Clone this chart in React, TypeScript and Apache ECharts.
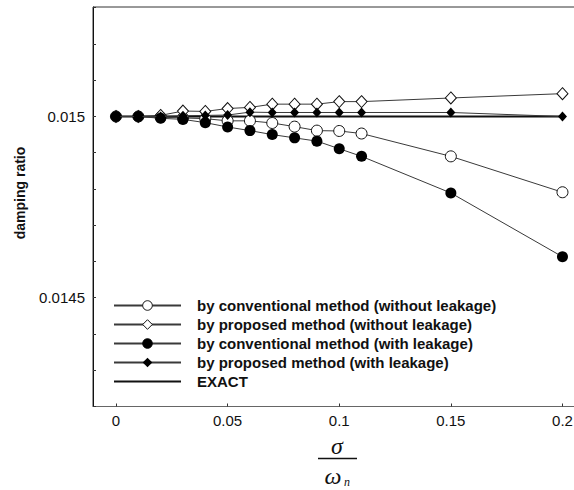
import React, { useEffect, useRef } from "react";
import * as echarts from "echarts";

const xValues = [0, 0.01, 0.02, 0.03, 0.04, 0.05, 0.06, 0.07, 0.08, 0.09, 0.1, 0.11, 0.15, 0.2];
const convNoLeak = [0.015, 0.015, 0.014998, 0.014996, 0.014994, 0.014988, 0.014988, 0.014982, 0.014972, 0.014961, 0.01496, 0.014953, 0.01489, 0.014791];
const propNoLeak = [0.015, 0.015, 0.015003, 0.015015, 0.015014, 0.015022, 0.015025, 0.015034, 0.015034, 0.015034, 0.015041, 0.015041, 0.015051, 0.015063];
const convLeak = [0.015, 0.015, 0.014995, 0.014992, 0.014983, 0.014971, 0.014961, 0.01495, 0.014941, 0.014932, 0.014911, 0.01489, 0.014789, 0.014613];
const propLeak = [0.015, 0.015, 0.015, 0.015002, 0.015003, 0.015004, 0.015012, 0.015011, 0.015011, 0.015011, 0.015011, 0.015011, 0.015011, 0.015];
const exactX = [0, 0.2];
const exactValues = [0.015, 0.015];

const seriesNames = [
  "by conventional method (without leakage)",
  "by proposed method (without leakage)",
  "by conventional method (with leakage)",
  "by proposed method (with leakage)",
  "EXACT",
];
const xTicks = [0, 0.05, 0.1, 0.15, 0.2];
const yLabelTicks = [0.015, 0.0145];

const zip = (xs: number[], ys: number[]) => xs.map((x, i) => [x, ys[i]]);

export default function App() {
  const ref = useRef<HTMLDivElement>(null);
  useEffect(() => {
    if (!ref.current) return;
    const chart = echarts.init(ref.current, undefined, { renderer: "svg" });
    const sans = "Liberation Sans, Arial, sans-serif";
    const lineCol = "#3a3a3a";
    chart.setOption({
      animation: false,
      backgroundColor: "#fff",
      grid: {
        left: 93,
        top: 7,
        width: 491.8,
        height: 399.5,
        outerBoundsMode: "none",
        containLabel: false,
        show: true,
        borderColor: "#333",
        borderWidth: 1,
        backgroundColor: "transparent",
      },
      legend: {
        orient: "vertical",
        left: 113,
        top: 298,
        padding: 0,
        itemWidth: 67,
        itemHeight: 12,
        itemGap: 4,
        itemStyle: { borderWidth: 1 },
        textStyle: {
          fontFamily: sans,
          fontWeight: "bold",
          fontSize: 15,
          lineHeight: 15,
          color: "#111",
          padding: [0, 0, 0, 11],
        },
        data: [
          { name: seriesNames[0] },
          { name: seriesNames[1] },
          { name: seriesNames[2] },
          { name: seriesNames[3] },
          { name: seriesNames[4], itemStyle: { opacity: 0 } },
        ],
      },
      xAxis: {
        type: "value",
        min: -0.0103,
        max: 0.21,
        axisLine: { onZero: false, lineStyle: { color: "#666", width: 1 } },
        axisTick: { inside: true, length: 3, customValues: xTicks, lineStyle: { color: "#333" } },
        axisLabel: {
          customValues: xTicks,
          margin: 6,
          fontFamily: sans,
          fontSize: 15,
          color: "#111",
          formatter: (v: number) => String(Math.round(v * 100) / 100),
        },
        splitLine: { show: false },
      },
      yAxis: {
        type: "value",
        min: 0.0142,
        max: 0.015302,
        interval: 0.0001,
        axisLine: { show: true, onZero: false, lineStyle: { color: "#111", width: 1 } },
        axisTick: { inside: true, length: 3, lineStyle: { color: "#333" } },
        axisLabel: {
          margin: 8,
          fontFamily: sans,
          fontSize: 15,
          color: "#111",
          showMaxLabel: false,
          formatter: (v: number) => {
            const r = Math.round(v * 1e5) / 1e5;
            return yLabelTicks.some((t) => Math.abs(t - r) < 1e-9) ? String(r) : "";
          },
        },
        splitLine: { show: false },
      },
      graphic: [
        {
          type: "text",
          x: 20,
          y: 193,
          rotation: Math.PI / 2,
          style: {
            text: "damping ratio",
            font: "bold 14px Liberation Sans, Arial, sans-serif",
            fill: "#111",
            align: "center",
            verticalAlign: "middle",
          },
        },
        {
          type: "text",
          x: 337,
          y: 446,
          style: {
            text: "σ",
            font: "italic 24px Liberation Serif, Times New Roman, serif",
            fill: "#111",
            align: "center",
            verticalAlign: "middle",
          },
        },
        {
          type: "line",
          shape: { x1: 318, y1: 458.5, x2: 357, y2: 458.5 },
          style: { stroke: "#111", lineWidth: 1.5 },
        },
        {
          type: "text",
          x: 333,
          y: 476,
          style: {
            text: "ω",
            font: "italic 24px Liberation Serif, Times New Roman, serif",
            fill: "#111",
            align: "center",
            verticalAlign: "middle",
          },
        },
        {
          type: "text",
          x: 347,
          y: 482,
          style: {
            text: "n",
            font: "italic 12px Liberation Serif, Times New Roman, serif",
            fill: "#111",
            align: "center",
            verticalAlign: "middle",
          },
        },
      ],
      series: [
        {
          name: seriesNames[4],
          type: "line",
          data: zip(exactX, exactValues),
          symbol: "none",
          lineStyle: { color: "#111", width: 2 },
          itemStyle: { color: "#111" },
          z: 1,
        },
        {
          name: seriesNames[0],
          type: "line",
          data: zip(xValues, convNoLeak),
          symbol: "circle",
          symbolSize: 11,
          lineStyle: { color: lineCol, width: 1 },
          itemStyle: { color: "#fff", borderColor: "#111", borderWidth: 1 },
          z: 2,
        },
        {
          name: seriesNames[1],
          type: "line",
          data: zip(xValues, propNoLeak),
          symbol: "diamond",
          symbolSize: [11, 12],
          lineStyle: { color: lineCol, width: 1 },
          itemStyle: { color: "#fff", borderColor: "#111", borderWidth: 1 },
          z: 3,
        },
        {
          name: seriesNames[2],
          type: "line",
          data: zip(xValues, convLeak),
          symbol: "circle",
          symbolSize: 11,
          lineStyle: { color: lineCol, width: 1 },
          itemStyle: { color: "#000", borderColor: "#000", borderWidth: 0 },
          z: 4,
        },
        {
          name: seriesNames[3],
          type: "line",
          data: zip(xValues, propLeak),
          symbol: "diamond",
          symbolSize: [9, 10],
          lineStyle: { color: lineCol, width: 1 },
          itemStyle: { color: "#000" },
          z: 5,
        },
      ],
    });
    return () => chart.dispose();
  }, []);
  return (
    <div
      ref={ref}
      style={{ position: "absolute", left: 0, top: 0, width: 574, height: 490, background: "#fff" }}
    />
  );
}
